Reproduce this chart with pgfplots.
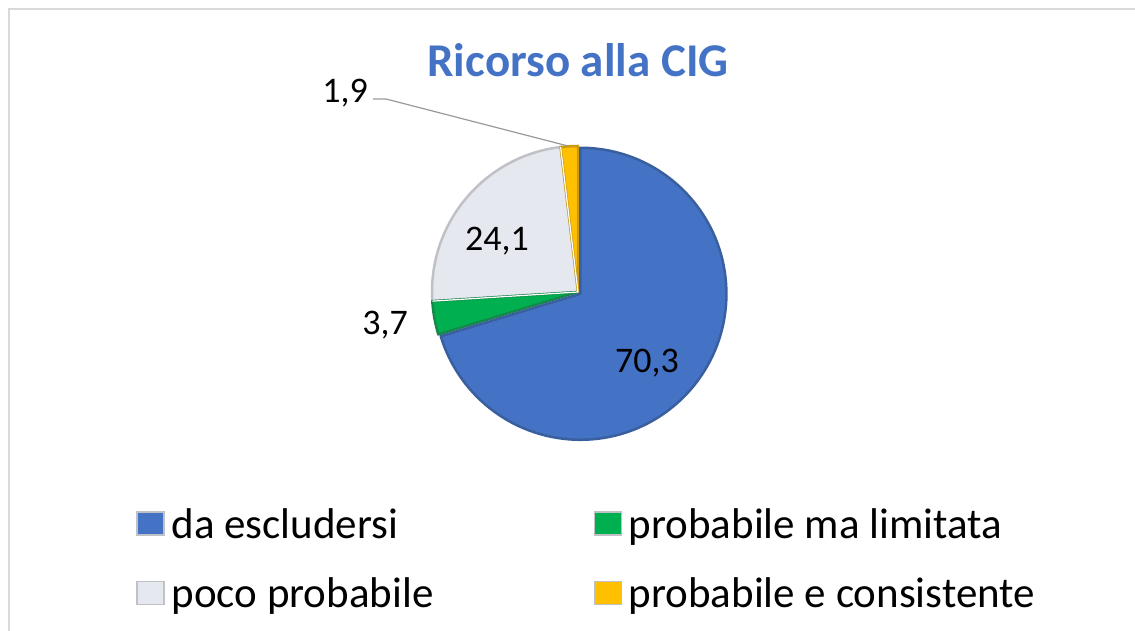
\documentclass[border=0pt]{standalone}
\usepackage{pgfplots}
\pgfplotsset{compat=1.18}
\usepackage{pgfplotstable}
\usepackage{fontspec}
\setmainfont{Carlito}
\definecolor{cBlue}{HTML}{4472C4}
\definecolor{cBlueD}{HTML}{3A5F9E}
\definecolor{cGreen}{HTML}{00B050}
\definecolor{cGreenD}{HTML}{16884A}
\definecolor{cGray}{HTML}{E6E8EF}
\definecolor{cGrayD}{HTML}{BFC1C6}
\definecolor{cYellow}{HTML}{FFC000}
\definecolor{cYellowD}{HTML}{C99A12}
\definecolor{cTitle}{HTML}{4472C4}
\definecolor{cFrame}{HTML}{D9D9D9}

\pgfplotstableread{
code value
1 70.3
2 3.7
3 24.1
4 1.9
}\piedata

\newcommand\slice[5]{% start, end, fill, draw, shift
  \filldraw[fill=#3, draw=#4, line width=2.5pt, line join=round, shift={(#5)}]
    (axis cs:578,339) -- ++(#1:146pt) arc[start angle=#1, end angle=#2, radius=146pt] -- cycle;}

\begin{document}
\begin{tikzpicture}
\pgfplotstablegetelem{0}{value}\of\piedata \let\vA\pgfplotsretval
\pgfplotstablegetelem{1}{value}\of\piedata \let\vB\pgfplotsretval
\pgfplotstablegetelem{2}{value}\of\piedata \let\vC\pgfplotsretval
\pgfplotstablegetelem{3}{value}\of\piedata \let\vD\pgfplotsretval
\pgfmathsetmacro\aA{90-3.6*\vA}
\pgfmathsetmacro\aB{\aA-3.6*\vB}
\pgfmathsetmacro\aC{\aB-3.6*\vC}
\pgfmathsetmacro\aD{\aC-3.6*\vD}
\pgfmathsetmacro\mA{(90+\aA)/2}
\useasboundingbox (0,0) rectangle (1135pt,631pt);
\begin{axis}[
  width=1135pt, height=631pt, scale only axis,
  xmin=0, xmax=1135, ymin=0, ymax=631,
  hide axis, clip=false,
  legend columns=2,
  legend cell align=left,
  legend style={at={(0.12,0.201)}, anchor=north west, draw=none, fill=none,
    font=\fontsize{43}{51}\selectfont, inner sep=0pt, row sep=30pt,
    nodes={inner sep=4pt},
    /tikz/every odd column/.append style={column sep=3pt},
    /tikz/every even column/.append style={column sep=156pt}},
  legend image code/.code={\filldraw[#1, line width=1.2pt] (0pt,-11pt) rectangle (27pt,12pt);},
  legend entries={da escludersi, probabile ma limitata, poco probabile, probabile e consistente},
]
\addlegendimage{fill=cBlue, draw=cGrayD}
\addlegendimage{fill=cGreen, draw=cGrayD}
\addlegendimage{fill=cGray, draw=cGrayD}
\addlegendimage{fill=cYellow, draw=cGrayD}

% frame
\draw[cFrame, line width=2pt] (axis cs:9,0) -- (axis cs:9,622) -- (axis cs:1135,622);

% pie slices
\slice{\aB}{\aC}{cGray}{cGrayD}{0pt,0pt}
\slice{\aA}{\aB}{cGreen}{cGreenD}{0pt,0pt}
\slice{\aC}{\aD}{cYellow}{cYellowD}{0pt,0pt}
\slice{90}{\aA}{cBlue}{cBlueD}{\mA:3pt}
\draw[white, line width=1.2pt] (axis cs:578,339) -- ++(\aB:146pt);
\draw[white, line width=1.2pt] (axis cs:578,339) -- ++(\aC:146pt);

% data labels
\node[font=\fontsize{36}{43}\selectfont] at (axis cs:647,268) {70,3};
\node[font=\fontsize{36}{43}\selectfont] at (axis cs:497,390) {24,1};
\node[font=\fontsize{36}{43}\selectfont] at (axis cs:385,306) {3,7};
\node[font=\fontsize{36}{43}\selectfont] at (axis cs:345,538) {1,9};
\draw[gray!80, line width=1.2pt] (axis cs:373,532) -- (axis cs:386,532) -- (axis cs:568,485);

% title
\node[font=\fontsize{47}{56}\selectfont\bfseries, text=cTitle] at (axis cs:578,571) {Ricorso alla CIG};
\end{axis}
\end{tikzpicture}
\end{document}
